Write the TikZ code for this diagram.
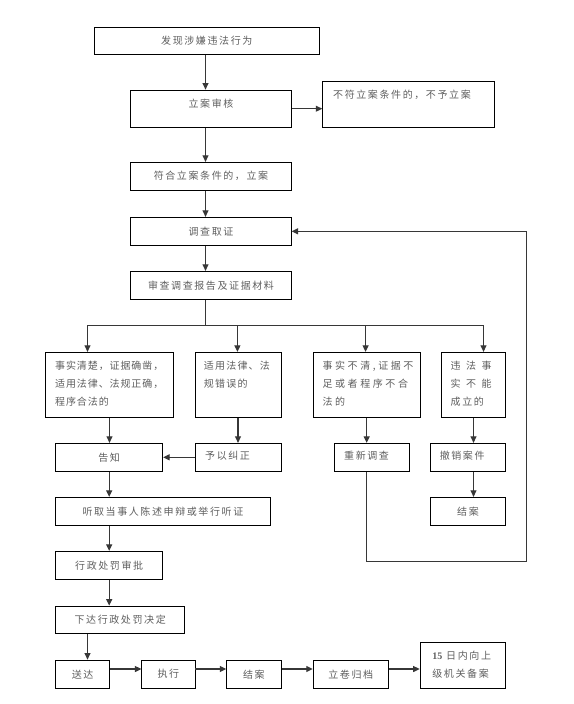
\documentclass[tikz,border=0pt]{standalone}
\usepackage{fontspec}
\setmainfont{Noto Sans CJK SC}[LetterSpace=16]
\newfontfamily\libserif{Liberation Serif}
\usetikzlibrary{arrows.meta}
\definecolor{txt}{RGB}{95,95,95}
\definecolor{lnc}{RGB}{55,55,55}
\tikzset{
  box/.style={draw=black, line width=0.9pt, inner sep=0pt, font=\fontsize{10}{17.7}\selectfont, text=txt},
  lbl/.style={inner sep=0pt, font=\fontsize{10}{17.7}\selectfont, text=txt, align=left},
  conn/.style={draw=lnc, line width=1.1pt},
  arr/.style={conn, -{Triangle[length=6.5pt,width=6pt]}},
}
\begin{document}
\begin{tikzpicture}[x=1pt,y=-1pt]
\useasboundingbox (0,0) rectangle (573,704);
\fill[white] (0,0) rectangle (573,704);

% top column
\node[box, minimum width=224.5pt, minimum height=27pt] (B1) at (206.8,40.8) {发现涉嫌违法行为};
\node[box, minimum width=160.4pt, minimum height=37.3pt] (B2) at (211,108.7) {};
\node[lbl] (t2) at (211,104) {立案审核};
\node[box, minimum width=172.2pt, minimum height=46.3pt] (B3) at (408.8,104.2) {};
\node[lbl, anchor=west] (t3) at (333,95) {不符立案条件的，不予立案};
\node[box, minimum width=160.4pt, minimum height=28pt] (B4) at (211,176.3) {符合立案条件的，立案};
\node[box, minimum width=160.4pt, minimum height=28pt] (B5) at (211,231.3) {调查取证};
\node[box, minimum width=160.4pt, minimum height=28pt] (B6) at (211,285.3) {审查调查报告及证据材料};

% four cases
\node[box, minimum width=128.2pt, minimum height=65pt] (C1) at (109.5,384.8) {};
\node[lbl, anchor=west] (t4) at (55,383.7) {\addfontfeature{LetterSpace=9}事实清楚，证据确凿，\\\addfontfeature{LetterSpace=9}适用法律、法规正确，\\\addfontfeature{LetterSpace=9}程序合法的};
\node[box, minimum width=86.1pt, minimum height=65pt] (C2) at (238,384.8) {};
\node[lbl, anchor=west] (t5) at (203.7,374.9) {\addfontfeature{LetterSpace=12}适用法律、法\\\addfontfeature{LetterSpace=12}规错误的};
\node[box, minimum width=106.9pt, minimum height=65pt] (C3) at (366.7,384.8) {};
\node[lbl, anchor=west] (t6) at (322.3,383.7) {\addfontfeature{LetterSpace=26}事实不清,证据不\\\addfontfeature{LetterSpace=26}足或者程序不合\\\addfontfeature{LetterSpace=26}法的};
\node[box, minimum width=64.1pt, minimum height=65pt] (C4) at (473.5,384.8) {};
\node[lbl, anchor=west] (t7) at (450.5,383.7) {违\hspace{5.5pt}法\hspace{5.5pt}事\\实\hspace{5.5pt}不\hspace{5.5pt}能\\成立的};

% second level
\node[box, minimum width=106.9pt, minimum height=28pt] (D1) at (109.2,457.3) {告知};
\node[box, minimum width=86.1pt, minimum height=28pt] (D2) at (238,457.3) {};
\node[lbl, anchor=west] (t8) at (205,455.7) {予以纠正};
\node[box, minimum width=75.2pt, minimum height=28pt] (D3) at (371.6,457.3) {};
\node[lbl, anchor=west] (t9) at (344,455.7) {重新调查};
\node[box, minimum width=75.1pt, minimum height=28pt] (D4) at (468,457.3) {};
\node[lbl, anchor=west] (t10) at (439.6,455.7) {撤销案件};

\node[box, minimum width=214.3pt, minimum height=28pt] (E1) at (162.9,511.3) {听取当事人陈述申辩或举行听证};
\node[box, minimum width=75.1pt, minimum height=28pt] (E4) at (468,511.3) {结案};
\node[box, minimum width=106.9pt, minimum height=28pt] (F1) at (109.2,565.3) {行政处罚审批};
\node[box, minimum width=128.9pt, minimum height=27.3pt] (G1) at (120.2,619.7) {下达行政处罚决定};

% bottom row
\node[box, minimum width=53.8pt, minimum height=28.3pt] (H1) at (82.6,674.2) {送达};
\node[box, minimum width=53.1pt, minimum height=28.3pt] (H2) at (168.4,674.2) {执行};
\node[box, minimum width=54.3pt, minimum height=28.3pt] (H3) at (253.9,674.2) {结案};
\node[box, minimum width=75.1pt, minimum height=28.3pt] (H4) at (350.8,674.2) {立卷归档};
\node[box, minimum width=85.4pt, minimum height=46pt] (H5) at (462.8,665.3) {};
\node[lbl, anchor=west] (t11) at (432.2,664.9) {{\libserif\bfseries 15} 日内向上\\级机关备案};

% helper coordinates
\coordinate (sp) at (205.5,0);
\coordinate (br) at (205.5,325.3);
\coordinate (a1) at (87.5,325.3);
\coordinate (a2) at (237.4,325.3);
\coordinate (a3) at (365.6,325.3);
\coordinate (a4) at (483.5,325.3);
\coordinate (hy) at (0,669);
\coordinate (fb) at (526.7,561.7);

% connectors
\draw[arr] (B1.south -| sp) -- (B2.north -| sp);
\draw[arr] (B2.east) -- (B2.east -| B3.west);
\draw[arr] (B2.south -| sp) -- (B4.north -| sp);
\draw[arr] (B4.south -| sp) -- (B5.north -| sp);
\draw[arr] (B5.south -| sp) -- (B6.north -| sp);
\draw[conn] (B6.south -| sp) -- (br);
\draw[conn] (a1) -- (a4);
\draw[arr] (a1) -- (a1 |- C1.north);
\draw[arr] (a2) -- (a2 |- C2.north);
\draw[arr] (a3) -- (a3 |- C3.north);
\draw[arr] (a4) -- (a4 |- C4.north);
\draw[arr] (C1.south) -- (C1.south |- D1.north);
\draw[arr] (C2.south) -- (C2.south |- D2.north);
\draw[arr] (C3.south) -- (C3.south |- D3.north);
\draw[arr] (C4.south) -- (C4.south |- D4.north);
\draw[arr] (D2.west) -- (D2.west -| D1.east);
\draw[arr] (D1.south) -- (D1.south |- E1.north);
\draw[arr] (D4.south -| C4.south) -- (C4.south |- E4.north);
\draw[arr] (E1.south -| D1.south) -- (D1.south |- F1.north);
\draw[arr] (F1.south) -- (F1.south |- G1.north);
\draw[arr] (G1.south -| a1) -- (a1 |- H1.north);
\draw[arr] (H1.east |- hy) -- (H2.west |- hy);
\draw[arr] (H2.east |- hy) -- (H3.west |- hy);
\draw[arr] (H3.east |- hy) -- (H4.west |- hy);
\draw[arr] (H4.east |- hy) -- (H5.west |- hy);
\draw[arr] (C3.south |- D3.south) |- (fb) |- (B5.east);
\end{tikzpicture}
\end{document}
